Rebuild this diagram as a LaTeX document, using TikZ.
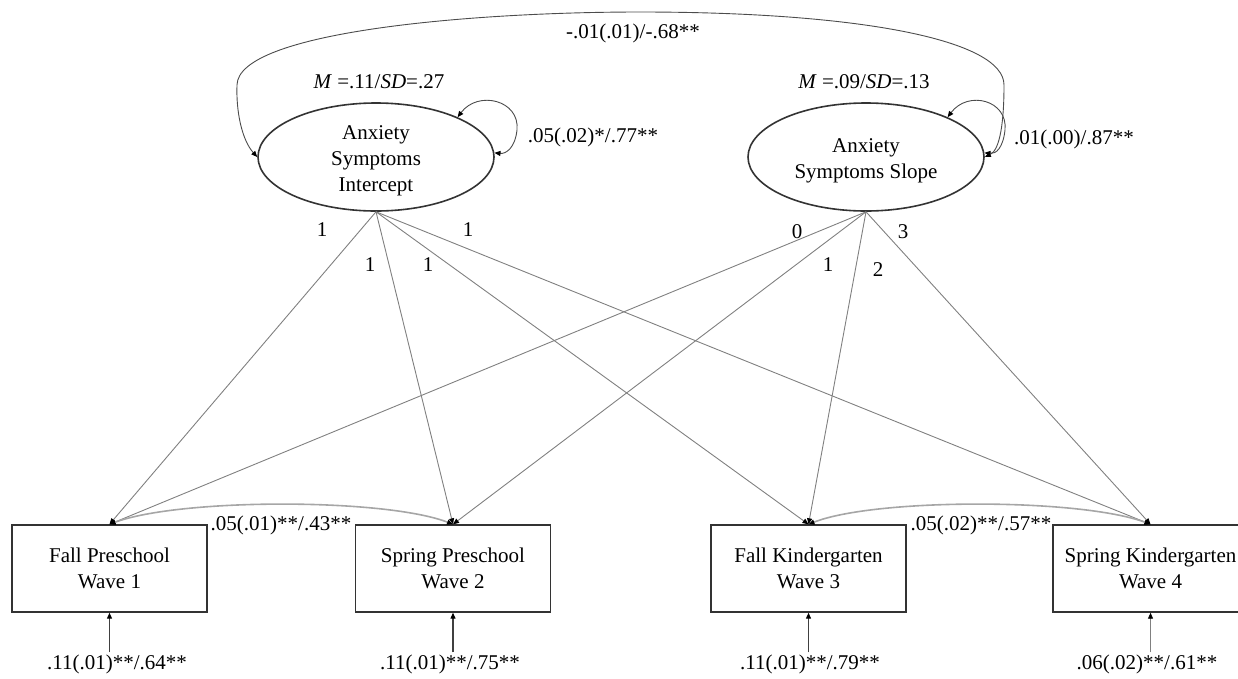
\documentclass[tikz,border=0pt]{standalone}
\usepackage{fontspec}
\setmainfont{Liberation Serif}
\usetikzlibrary{arrows.meta,shapes.geometric}
\begin{document}
\begin{tikzpicture}[x=1pt,y=-1pt,
  font=\fontsize{21}{26}\selectfont,
  >={Triangle[length=6pt,width=5pt,color=black]},
  latent/.style={ellipse, draw=black!80, line width=1.6pt, minimum width=236pt,
    minimum height=108pt, inner sep=0pt},
  latenttext/.style={align=center, inner sep=0pt},
  observed/.style={rectangle, draw=black!80, line width=1.4pt, minimum width=195pt,
    minimum height=87pt, inner sep=0pt, align=center},
  lbl/.style={inner sep=2pt},
  loading/.style={draw=black!50, line width=0.9pt, ->},
  boxcov/.style={draw=black!35, line width=1.6pt, <->},
  latcov/.style={draw=black!70, line width=0.9pt, <->},
  resid/.style={draw=black!75, line width=1.2pt, ->}
]
\useasboundingbox (0,0) rectangle (1238,678);

% latent growth factors
\node[latent] (int) at (376,157) {};
\node[latenttext] (intT) at (376,161) {Anxiety\\Symptoms\\Intercept};
\node[latent] (slp) at (866,157) {};
\node[latenttext] (slpT) at (866,161) {Anxiety\\Symptoms Slope};

% observed waves
\node[observed] (w1) at (109.5,568.5) {Fall Preschool\\Wave 1};
\node[observed] (w2) at (453,568.5) {Spring Preschool\\Wave 2};
\node[observed] (w3) at (808.5,568.5) {Fall Kindergarten\\Wave 3};
\node[observed] (w4) at (1150.5,568.5) {Spring Kindergarten\\Wave 4};

% factor means and variances
\node[lbl] (mi) at (379,82) {\textit{M} =.11/\textit{SD}=.27};
\node[lbl] (ms) at (864,82) {\textit{M} =.09/\textit{SD}=.13};
\node[lbl] (vi) at (593,137) {.05(.02)*/.77**};
\node[lbl] (vs) at (1074,139) {.01(.00)/.87**};
\node[lbl] (cv) at (633,33) {-.01(.01)/-.68**};

% variance loops
\draw[latcov] (int.26) .. controls (478,90) and (520,100) .. (517,130)
  .. controls (515,148) and (506,154) .. (int.2);
\draw[latcov] (slp.26) .. controls (968,90) and (1008,100) .. (1005,130)
  .. controls (1003,148) and (996,154) .. (slp.2);

% intercept--slope covariance
\draw[latcov] (int.west) .. controls (242,140) and (236,112) .. (237,85)
  .. controls (238,32) and (470,12) .. (640,12)
  .. controls (860,12) and (1004,40) .. (1004,85)
  .. controls (1004,122) and (1000,150) .. (slp.east);

% loadings
\foreach \w in {w1,w2,w3,w4} {
  \draw[loading] (int.south) -- (\w.north);
  \draw[loading] (slp.south) -- (\w.north);
}

% loading values
\node[lbl] (li1) at (322,230) {1};
\node[lbl] (li2) at (370,265) {1};
\node[lbl] (li3) at (428,265) {1};
\node[lbl] (li4) at (468,230) {1};
\node[lbl] (ls1) at (797,232) {0};
\node[lbl] (ls2) at (828,265) {1};
\node[lbl] (ls3) at (878,270) {2};
\node[lbl] (ls4) at (903,232) {3};

% residual covariances
\draw[boxcov] (w1.north) .. controls (180,498) and (385,498) .. (w2.north);
\draw[boxcov] (w3.north) .. controls (875,498) and (1080,498) .. (w4.north);
\node[lbl] (c12) at (281,525) {.05(.01)**/.43**};
\node[lbl] (c34) at (981,525) {.05(.02)**/.57**};

% residual variances
\node[lbl] (e1) at (117,664) {.11(.01)**/.64**};
\node[lbl] (e2) at (450,664) {.11(.01)**/.75**};
\node[lbl] (e3) at (810,664) {.11(.01)**/.79**};
\node[lbl] (e4) at (1147,664) {.06(.02)**/.61**};
\draw[resid] (w1.south |- e1.north) -- (w1.south);
\draw[resid] (w2.south |- e2.north) -- (w2.south);
\draw[resid] (w3.south |- e3.north) -- (w3.south);
\draw[resid, draw=black!50, line width=0.9pt] (w4.south |- e4.north) -- (w4.south);
\end{tikzpicture}
\end{document}
